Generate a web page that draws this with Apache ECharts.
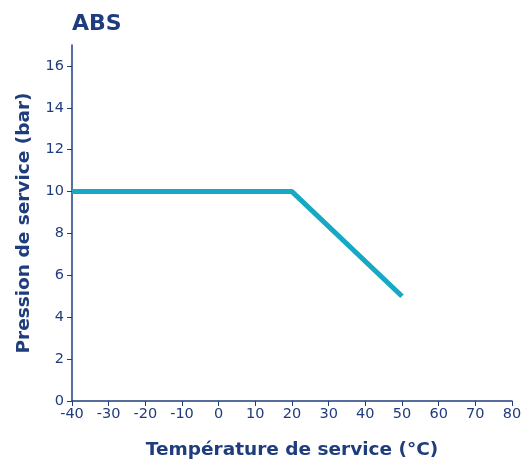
<!DOCTYPE html>
<html>
<head>
<meta charset="utf-8">
<script src="https://cdn.jsdelivr.net/npm/echarts@6/dist/echarts.min.js"></script>
<style>
  html, body { margin: 0; padding: 0; background: #fff; }
  #chart { width: 528px; height: 460px; }
</style>
</head>
<body>
<div id="chart"></div>
<script>
const temperatures = [-40, 20, 50]
const pressures = [10, 10, 5]
const xTicks = [-40, -30, -20, -10, 0, 10, 20, 30, 40, 50, 60, 70, 80]
const yTicks = [0, 2, 4, 6, 8, 10, 12, 14, 16]

const navy = '#1f3c7c'
const font = 'DejaVu Sans'

const chart = echarts.init(document.getElementById('chart'))

const option = {
  animation: false,
  title: {
    text: 'ABS',
    left: 67,
    top: 8,
    textStyle: { color: navy, fontSize: 22, fontWeight: 'bold', fontFamily: font }
  },
  grid: { left: 72, right: 16, top: 45, bottom: 59, outerBoundsMode: 'none' },
  xAxis: {
    type: 'value',
    min: -40,
    max: 80,
    interval: 10,
    name: 'Température de service (°C)',
    nameLocation: 'middle',
    nameGap: 40,
    nameTextStyle: { color: navy, fontSize: 18.5, fontWeight: 'bold', fontFamily: font },
    axisLine: { show: true, onZero: false, lineStyle: { color: navy, width: 1.5 } },
    axisTick: { show: true, length: 5, lineStyle: { color: navy } },
    axisLabel: { color: navy, fontSize: 14.5, fontFamily: font, margin: 6, customValues: xTicks },
    splitLine: { show: false }
  },
  yAxis: {
    type: 'value',
    min: 0,
    max: 17,
    name: 'Pression de service (bar)',
    nameLocation: 'middle',
    nameGap: 38,
    nameTextStyle: { color: navy, fontSize: 18.5, fontWeight: 'bold', fontFamily: font },
    axisLine: { show: true, onZero: false, lineStyle: { color: navy, width: 1.5 } },
    axisTick: { show: true, length: 5, lineStyle: { color: navy }, customValues: yTicks },
    axisLabel: { color: navy, fontSize: 14.5, fontFamily: font, margin: 8, customValues: yTicks },
    splitLine: { show: false }
  },
  series: [
    {
      type: 'line',
      data: temperatures.map((t, i) => [t, pressures[i]]),
      symbol: 'none',
      lineStyle: { color: '#17a8c4', width: 5 }
    }
  ]
}

chart.setOption(option)
</script>
</body>
</html>
